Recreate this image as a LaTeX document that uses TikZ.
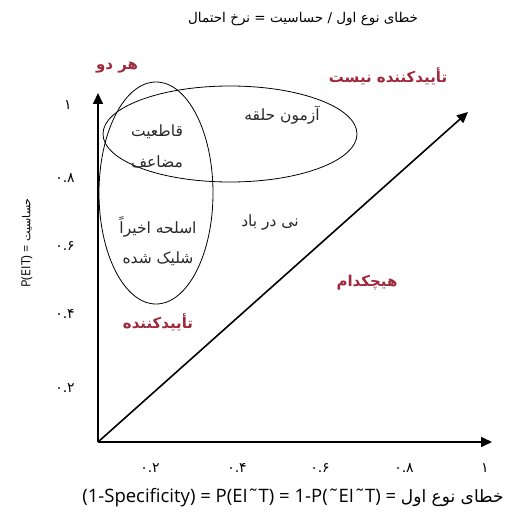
\documentclass[tikz,border=0pt]{standalone}
\usepackage{fontspec}
\setmainfont{Open Sans}
\newfontfamily\fa[Script=Arabic]{DejaVu Sans}
\TeXXeTstate=1
\usetikzlibrary{arrows.meta}
\definecolor{labred}{RGB}{160,40,60}
\definecolor{labgray}{RGB}{40,40,40}
\newcommand\rtl[1]{\hbox{\beginR #1\endR}}

\begin{document}
\begin{tikzpicture}[x=1pt, y=-1pt,
  lab/.style={font=\fa\fontsize{15.5}{18}\selectfont, text=labgray, inner sep=1pt},
  redlab/.style={font=\fa\bfseries\fontsize{15}{18}\selectfont, text=labred, inner sep=1pt},
  tick/.style={font=\fa\fontsize{14}{16}\selectfont, inner sep=1pt},
  axis/.style={black, line width=1.6pt, -{Triangle[length=11pt, width=10pt]}},
  ring/.style={black, line width=0.8pt}]
  \useasboundingbox (0,0) rectangle (508,516);
  % axes
  \coordinate (O) at (98,442);
  \coordinate (ytop) at (98,93);
  \coordinate (xend) at (492,442);
  \coordinate (dend) at (468,112);
  \draw[axis] (O) -- (ytop);
  \draw[axis] (O) -- (xend);
  \draw[axis] (O) -- (dend);
  % rings
  \draw[ring] (230,134) ellipse (127 and 48);
  \draw[ring] (156,193) ellipse (57 and 111);
  % ticks
  \node[tick] (y10) at (68,105) {۱};
  \node[tick] (y08) at (65,178) {۰.۸};
  \node[tick] (y06) at (65,246) {۰.۶};
  \node[tick] (y04) at (65,314) {۰.۴};
  \node[tick] (y02) at (65,388) {۰.۲};
  \node[tick] (x02) at (150,468) {۰.۲};
  \node[tick] (x04) at (237,468) {۰.۴};
  \node[tick] (x06) at (320,468) {۰.۶};
  \node[tick] (x08) at (404,468) {۰.۸};
  \node[tick] (x10) at (485,468) {۱};
  % titles
  \node[lab, text=black, font=\fa\fontsize{13.5}{16}\selectfont] (title) at (303,19)
    {\rtl{نرخ احتمال} = \rtl{حساسیت} / \rtl{خطای نوع اول}};
  \node[font=\fontsize{18.5}{22}\selectfont, inner sep=1pt] (xlab) at (293,498)
    {(1-Specificity) = P(EI˜T) = 1-P(˜EI˜T) = {\fa\fontsize{17}{20}\selectfont\rtl{خطای نوع اول}}};
  \node[font=\fontsize{12.5}{15}\selectfont, inner sep=1pt, rotate=90] (ylab) at (27,243)
    {P(EIT) = {\fa\fontsize{11}{13}\selectfont\rtl{حساسیت}}};
  % regions
  \node[redlab] (both) at (117,68) {\rtl{هر دو}};
  \node[redlab] (notconf) at (388,76) {\rtl{تأییدکننده نیست}};
  \node[redlab] (neither) at (367,283) {\rtl{هیچکدام}};
  \node[redlab] (conf) at (158,322) {\rtl{تأییدکننده}};
  \node[lab] (hoop) at (282,115) {\rtl{آزمون حلقه}};
  \node[lab] (doubly) at (157,132) {\rtl{قاطعیت}};
  \node[lab] (doubly2) at (157,162) {\rtl{مضاعف}};
  \node[lab] (smoking) at (158,227) {\rtl{اسلحه اخیراً}};
  \node[lab] (smoking2) at (158,259) {\rtl{شلیک شده}};
  \node[lab] (straw) at (270,223) {\rtl{نی در باد}};
\end{tikzpicture}
\end{document}
